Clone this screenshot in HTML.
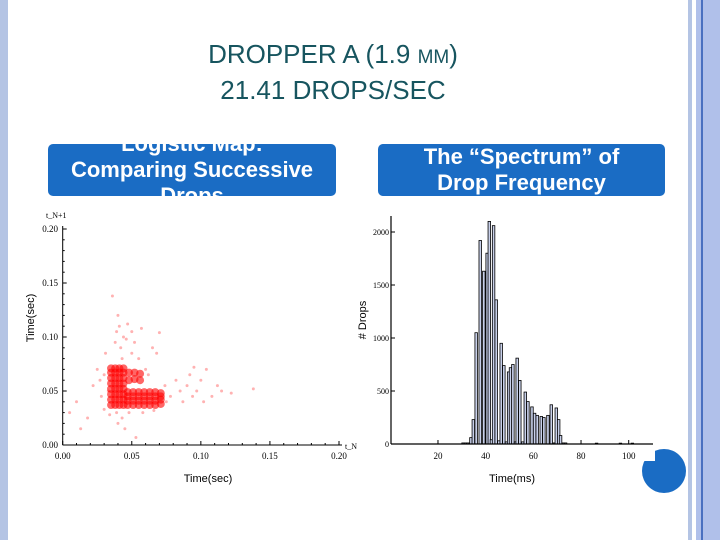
<!DOCTYPE html>
<html><head><meta charset="utf-8"><style>
body{margin:0;width:720px;height:540px;overflow:hidden;background:#fff;position:relative;font-family:"Liberation Sans",sans-serif}
.box{position:absolute;background:#1a6cc4;border-radius:5px;color:#fff;font-weight:bold;font-size:22px;line-height:26px;text-align:center;overflow:hidden}
</style></head><body>
<div style="position:absolute;left:0;top:0;width:8px;height:540px;background:#b4c4e4"></div>
<div style="position:absolute;left:688px;top:0;width:4px;height:540px;background:#b4c4e4"></div>
<div style="position:absolute;left:696px;top:0;width:24px;height:540px;background:#b0c0ea"></div>
<div style="position:absolute;left:701px;top:0;width:2px;height:540px;background:#4a70c0"></div>
<div style="position:absolute;left:0;width:666px;top:38px;text-align:center;color:#17555f;font-size:26px;line-height:33px">DROPPER A (1.9 <span style="font-size:19px">MM</span>)<br>21.41 DROPS/SEC</div>
<div class="box" style="left:48px;top:144px;width:288px;height:52px"><div style="margin-top:-13px">Logistic Map:<br>Comparing Successive<br>Drops</div></div>
<div class="box" style="left:378px;top:144px;width:287px;height:52px"><div style="margin-top:0px">The “Spectrum” of<br>Drop Frequency</div></div>
<svg id="sc" width="720" height="540" style="position:absolute;left:0;top:0"></svg>
<svg width="720" height="540" style="position:absolute;left:0;top:0">
<circle cx="664" cy="471" r="22" fill="#1a6cc4"/>
<path d="M655 449 L655 461 L643 461 A22 22 0 0 1 655 449Z" fill="#fff"/>
</svg>
<script>
const NS='http://www.w3.org/2000/svg';
const svg=document.getElementById('sc');
function mk(t,a,p){const e=document.createElementNS(NS,t);for(const k in a)e.setAttribute(k,a[k]);(p||svg).appendChild(e);return e;}
// ---------- scatter data ----------
const denseX=[0.035,0.035,0.035,0.035,0.035,0.035,0.035,0.035,0.038,0.038,0.038,0.038,0.038,0.038,0.038,0.038,0.041,0.041,0.041,0.041,0.041,0.041,0.041,0.041,0.044,0.044,0.044,0.044,0.044,0.044,0.044,0.044,
0.047,0.047,0.047,0.047,0.051,0.051,0.051,0.051,0.055,0.055,0.055,0.055,0.059,0.059,0.059,0.059,0.063,0.063,0.063,0.063,0.067,0.067,0.067,0.067,0.071,0.071,0.071,0.071,0.048,0.048,0.052,0.052,0.056,0.056];
const denseY=[0.037,0.042,0.047,0.052,0.057,0.062,0.067,0.071,0.037,0.042,0.047,0.052,0.057,0.062,0.067,0.071,0.037,0.042,0.047,0.052,0.057,0.062,0.067,0.071,0.037,0.042,0.047,0.052,0.057,0.062,0.067,0.071,
0.037,0.041,0.045,0.049,0.037,0.041,0.045,0.049,0.037,0.041,0.045,0.049,0.037,0.041,0.045,0.049,0.037,0.041,0.045,0.049,0.037,0.041,0.045,0.049,0.038,0.042,0.045,0.048,0.060,0.067,0.061,0.067,0.060,0.066];
const sparseX=[0.005,0.010,0.013,0.018,0.022,0.025,0.027,0.028,0.030,0.031,0.033,0.034,0.036,0.038,0.039,0.040,0.040,0.041,0.042,0.043,0.043,0.044,0.045,0.046,0.048,0.050,0.052,0.053,0.055,0.057,0.060,0.062,0.065,0.070,0.075,0.078,0.082,0.085,0.087,0.090,0.092,0.094,0.095,0.097,0.100,0.102,0.104,0.108,0.112,0.115,0.122,0.138,0.050,0.047,0.039,0.030,0.058,0.066,0.068,0.074];
const sparseY=[0.030,0.040,0.015,0.025,0.055,0.070,0.060,0.045,0.065,0.085,0.050,0.028,0.138,0.095,0.105,0.120,0.020,0.110,0.090,0.080,0.025,0.100,0.015,0.098,0.030,0.105,0.095,0.007,0.080,0.108,0.070,0.065,0.090,0.104,0.040,0.045,0.060,0.050,0.040,0.055,0.065,0.045,0.072,0.050,0.060,0.040,0.070,0.045,0.055,0.050,0.048,0.052,0.085,0.112,0.030,0.033,0.030,0.032,0.085,0.055];
const scXTicks=['0.00','0.05','0.10','0.15','0.20'];
const scYTicks=['0.00','0.05','0.10','0.15','0.20'];
const sx=v=>62.7+v/0.2*276.3, sy=v=>445-v/0.2*216;
mk('line',{x1:62.7,y1:445,x2:342,y2:445,stroke:'#000','stroke-width':1});
mk('line',{x1:62.7,y1:445,x2:62.7,y2:226,stroke:'#000','stroke-width':1});
for(let i=0;i<=20;i++){const v=i*0.01;const maj=i%5==0;
 mk('line',{x1:sx(v),y1:445,x2:sx(v),y2:445-(maj?4:2),stroke:'#000'});
 mk('line',{x1:62.7,y1:sy(v),x2:62.7+(maj?4:2),y2:sy(v),stroke:'#000'});}
scXTicks.forEach((t,i)=>{const e=mk('text',{x:sx(i*0.05),y:459,'font-size':9,'font-family':'Liberation Serif','text-anchor':'middle'});e.textContent=t;});
scYTicks.forEach((t,i)=>{const e=mk('text',{x:58,y:sy(i*0.05)+3,'font-size':9,'font-family':'Liberation Serif','text-anchor':'end'});e.textContent=t;});
let e=mk('text',{x:46,y:218,'font-size':8,'font-family':'Liberation Serif'});e.textContent='t_N+1';
e=mk('text',{x:345,y:449,'font-size':8,'font-family':'Liberation Serif'});e.textContent='t_N';
sparseX.forEach((x,i)=>{const c=mk('circle',{cx:sx(x),cy:sy(sparseY[i]),r:1.5,fill:'#f00','fill-opacity':0.3});

});
denseX.forEach((x,i)=>{const c=mk('circle',{cx:sx(x),cy:sy(denseY[i]),r:4,fill:'#f00','fill-opacity':0.6});

});
e=mk('text',{x:0,y:0,'font-size':11,transform:'translate(34,318) rotate(-90)','text-anchor':'middle'});e.textContent='Time(sec)';
e=mk('text',{x:208,y:482,'font-size':11,'text-anchor':'middle'});e.textContent='Time(sec)';
// ---------- histogram data ----------
const binStart=[30,31,32,33.3,34.3,35.5,37.2,38.7,40.1,41.0,41.9,42.8,43.9,45,46,47.1,48.2,49.1,49.9,50.9,52,52.7,53.8,55,56.1,57.2,58.9,60,61.1,62.8,63.9,65.6,67,68.2,69.1,70.1,70.9,72,73,86,96,101];
const counts=[10,10,10,60,230,1050,1920,1630,1800,2100,40,2060,1360,30,950,740,20,680,720,750,20,810,600,20,490,400,350,290,270,260,250,270,370,10,340,230,80,10,10,8,8,8];
const hXTicks=[20,40,60,80,100];
const hYTicks=[0,500,1000,1500,2000];
const hx=v=>390.3+v*2.384, hy=v=>444-v*0.106;
hXTicks.forEach(t=>{mk('line',{x1:hx(t),y1:444,x2:hx(t),y2:440,stroke:'#000'});
 const x=mk('text',{x:hx(t),y:459,'font-size':9,'font-family':'Liberation Serif','text-anchor':'middle'});x.textContent=t;});
hYTicks.forEach(t=>{mk('line',{x1:391,y1:hy(t),x2:395,y2:hy(t),stroke:'#000'});
 const y=mk('text',{x:389,y:hy(t)+3,'font-size':8,'font-family':'Liberation Serif','text-anchor':'end'});y.textContent=t;});
binStart.forEach((b,i)=>{const r=mk('rect',{x:hx(b),y:hy(counts[i]),width:2.384*1.05,height:444-hy(counts[i]),fill:'#c8d0ea',stroke:'#000','stroke-width':0.8});

});
mk('line',{x1:391,y1:444,x2:653,y2:444,stroke:'#000','stroke-width':1.2});
mk('line',{x1:391,y1:444,x2:391,y2:216,stroke:'#000','stroke-width':1.2});
e=mk('text',{x:0,y:0,'font-size':11,transform:'translate(366,320) rotate(-90)','text-anchor':'middle'});e.textContent='# Drops';
e=mk('text',{x:512,y:482,'font-size':11,'text-anchor':'middle'});e.textContent='Time(ms)';
</script>
</body></html>
